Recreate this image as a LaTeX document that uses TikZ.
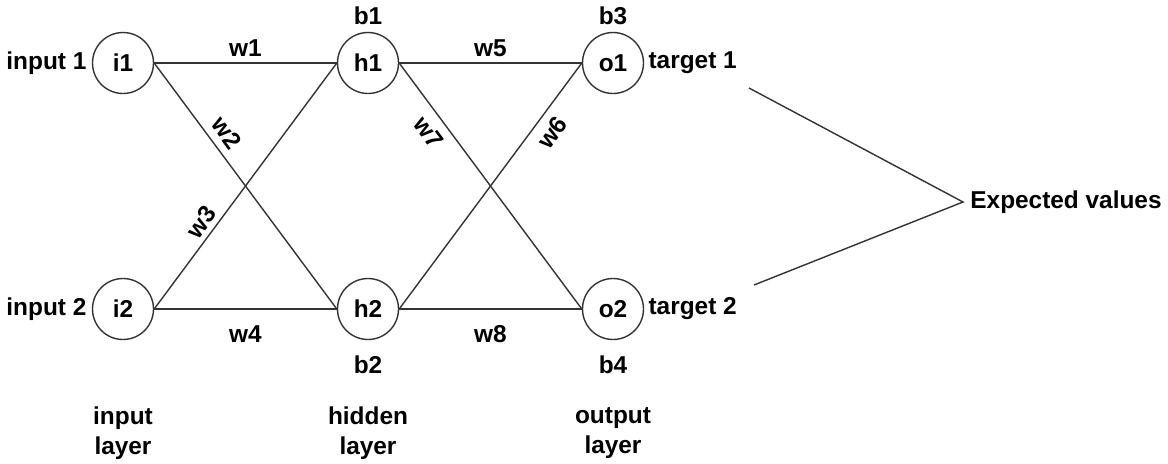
\documentclass[tikz,border=0pt]{standalone}
\usepackage{fontspec}
\setmainfont{Liberation Sans}
\usetikzlibrary{positioning}

\tikzset{
  neuron/.style={circle, draw=black!80, line width=0.7pt, minimum size=30.5pt, inner sep=0pt},
  link/.style={draw=black!80, line width=0.7pt},
  wlabel/.style={inner sep=0pt},
  txt/.style={inner sep=0pt},
  layer/.style={inner sep=0pt, align=center, font=\fontsize{12.2}{15}\selectfont\bfseries}
}

\begin{document}
\begin{tikzpicture}[x=0.5pt, y=0.5pt, font=\fontsize{12.2}{13}\selectfont\bfseries]
\useasboundingbox (0,0) rectangle (1168,463);

\node[neuron] (i1) at (123,400) {i1};
\node[neuron] (i2) at (123,154) {i2};
\node[neuron] (h1) at (368,400) {h1};
\node[neuron] (h2) at (368,154) {h2};
\node[neuron] (o1) at (613,400) {o1};
\node[neuron] (o2) at (613,154) {o2};

\node[txt, left=2.5pt of i1]  (in1) {input 1};
\node[txt, left=2.5pt of i2]  (in2) {input 2};
\node[txt, right=2pt of o1]   (tg1) {target 1};
\node[txt, right=2pt of o2]   (tg2) {target 2};

\node[txt, above=3.5pt of h1] (b1) {b1};
\node[txt, below=7.5pt of h2] (b2) {b2};
\node[txt, above=3.5pt of o1] (b3) {b3};
\node[txt, below=7.5pt of o2] (b4) {b4};

\draw[link] (i1.east) -- node[wlabel, above=3pt] {w1} (h1.west);
\draw[link] (i1.east) -- node[wlabel, sloped, pos=0.325, above=3.9pt] {w2} (h2.west);
\draw[link] (i2.east) -- node[wlabel, sloped, pos=0.32, above=2.3pt] {w3} (h1.west);
\draw[link] (i2.east) -- node[wlabel, below=8pt] {w4} (h2.west);
\draw[link] (h1.east) -- node[wlabel, above=3pt] {w5} (o1.west);
\draw[link] (h2.east) -- node[wlabel, sloped, pos=0.76, below=4.4pt] {w6} (o1.west);
\draw[link] (h1.east) -- node[wlabel, sloped, pos=0.24, below=4.4pt] {w7} (o2.west);
\draw[link] (h2.east) -- node[wlabel, below=8pt] {w8} (o2.west);

\node[txt, inner sep=3.5pt, anchor=west] (ev) at (963,261) {Expected values};
\coordinate (t1) at (749,375);
\coordinate (t2) at (754,178);
\draw[link] (t1) -- (ev.west) -- (t2);

\node[layer] (lin)  at (123,29.5) {input\\layer};
\node[layer] (lhid) at (368,29.5) {hidden\\layer};
\node[layer] (lout) at (613,29.5) {output\\layer};
\end{tikzpicture}
\end{document}
